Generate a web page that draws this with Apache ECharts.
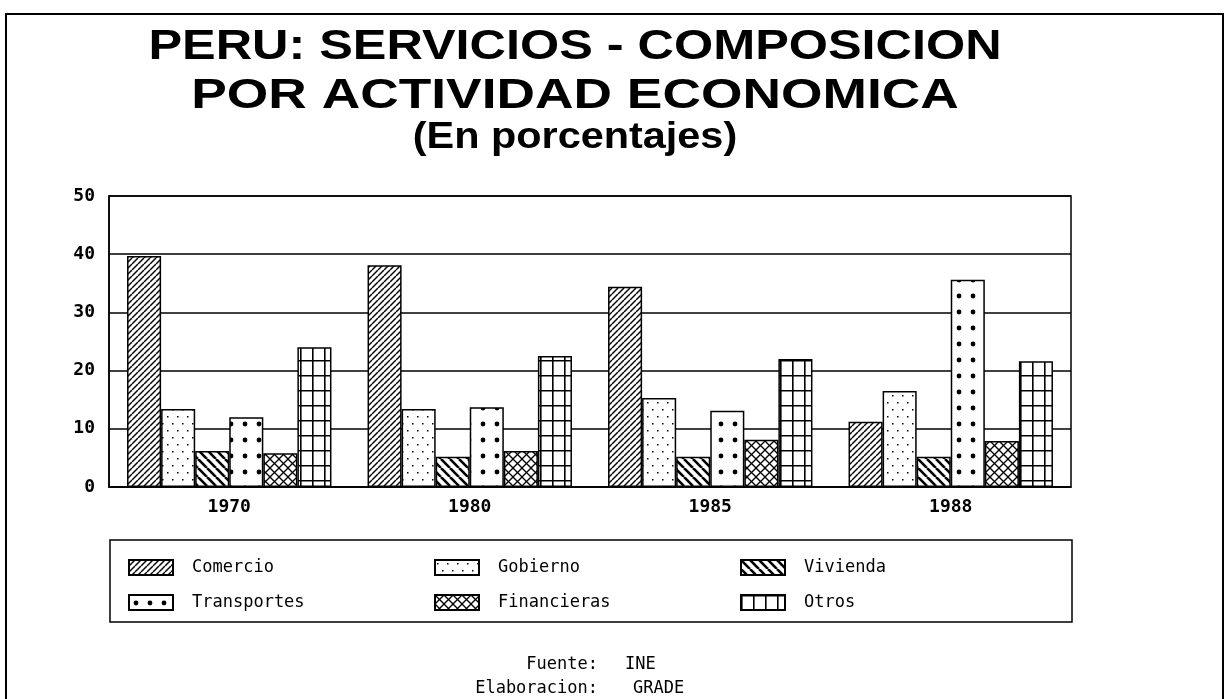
<!DOCTYPE html>
<html>
<head>
<meta charset="utf-8">
<script src="https://cdn.jsdelivr.net/npm/echarts@6/dist/echarts.min.js"></script>
<style>
  html, body { margin: 0; padding: 0; background: #fff; }
  #chart { width: 1230px; height: 699px; }
</style>
</head>
<body>
<div id="chart"></div>
<script>
// data
var years = ['1970', '1980', '1985', '1988']
var comercio = [39.7, 38.1, 34.4, 11.2]
var gobierno = [13.4, 13.4, 15.3, 16.5]
var vivienda = [6.2, 5.2, 5.2, 5.2]
var transportes = [12.0, 13.7, 13.1, 35.6]
var financieras = [5.8, 6.2, 8.1, 7.9]
var otros = [24.0, 22.5, 22.0, 21.6]
var yTicks = [0, 10, 20, 30, 40, 50]

var mono = '"DejaVu Sans Mono", monospace'
var sans = '"Liberation Sans", Arial, sans-serif'

// hatch fills drawn on small canvases
function tile (w, h, draw) {
  var c = document.createElement('canvas')
  c.width = w
  c.height = h
  var ctx = c.getContext('2d')
  ctx.fillStyle = '#fff'
  ctx.fillRect(0, 0, w, h)
  ctx.strokeStyle = '#000'
  ctx.fillStyle = '#000'
  draw(ctx, w, h)
  return { image: c, repeat: 'repeat' }
}

function diag (ctx, s, up) {
  for (var k = -1; k <= 1; k++) {
    ctx.beginPath()
    if (up) {
      ctx.moveTo(k * s, s)
      ctx.lineTo(k * s + s, 0)
    } else {
      ctx.moveTo(k * s, 0)
      ctx.lineTo(k * s + s, s)
    }
    ctx.stroke()
  }
}

var fills = {
  comercio: tile(6, 6, function (ctx, w) { ctx.lineWidth = 1.4; diag(ctx, w, true) }),
  gobierno: tile(10, 14, function (ctx) {
    ctx.fillRect(2, 3, 1.5, 1.5)
    ctx.fillRect(7, 10, 1.5, 1.5)
  }),
  vivienda: tile(9, 9, function (ctx, w) { ctx.lineWidth = 2.6; diag(ctx, w, false) }),
  transportes: tile(14, 16, function (ctx) {
    ctx.beginPath()
    ctx.arc(7, 8, 2.4, 0, Math.PI * 2)
    ctx.fill()
  }),
  financieras: tile(9, 9, function (ctx, w) {
    ctx.lineWidth = 1.3
    diag(ctx, w, true)
    diag(ctx, w, false)
  }),
  otros: tile(12, 15, function (ctx, w, h) {
    ctx.lineWidth = 1.6
    ctx.beginPath()
    ctx.moveTo(0.8, 0); ctx.lineTo(0.8, h)
    ctx.moveTo(0, 0.8); ctx.lineTo(w, 0.8)
    ctx.stroke()
  })
}

function bar (name, data, fill) {
  return {
    name: name,
    type: 'bar',
    data: data,
    barGap: '0%',
    barCategoryGap: '15%',
    itemStyle: { color: fill, borderColor: '#000', borderWidth: 1.5 }
  }
}

function legendCol (left, names) {
  return {
    orient: 'vertical',
    left: left,
    top: 559,
    padding: 0,
    itemWidth: 44,
    itemHeight: 15,
    itemGap: 18,
    icon: 'rect',
    data: names,
    selectedMode: false,
    textStyle: { fontFamily: mono, fontSize: 17, color: '#000', padding: [0, 0, 0, 14] }
  }
}

// title lines are stretched sideways to match the wide lettering
function titleLine (text, y, size, sx) {
  return {
    type: 'text', x: 575, y: y, scaleX: sx, silent: true,
    style: { text: text, x: 0, y: 0, font: 'bold ' + size + 'px ' + sans, fill: '#000', align: 'center', verticalAlign: 'top' }
  }
}

function note (text, x, y, align) {
  return { type: 'text', x: x, y: y, silent: true, style: { text: text, font: '17px ' + mono, fill: '#000', align: align, verticalAlign: 'middle' } }
}

var chart = echarts.init(document.getElementById('chart'))
chart.setOption({
  animation: false,
  backgroundColor: '#fff',
  grid: { left: 109, right: 159, top: 196, bottom: 212, show: true, borderColor: '#000', borderWidth: 1.5 },
  xAxis: {
    type: 'category',
    data: years,
    axisLine: { lineStyle: { color: '#000', width: 1.5 } },
    axisTick: { show: false },
    axisLabel: { color: '#000', fontFamily: mono, fontWeight: 'bold', fontSize: 18, margin: 11 }
  },
  yAxis: {
    type: 'value',
    min: yTicks[0],
    max: yTicks[yTicks.length - 1],
    interval: 10,
    axisLine: { show: true, lineStyle: { color: '#000', width: 1.5 } },
    axisTick: { show: false },
    splitLine: { lineStyle: { color: '#000', width: 1.5 } },
    axisLabel: { color: '#000', fontFamily: mono, fontWeight: 'bold', fontSize: 18, margin: 14 }
  },
  legend: [
    legendCol(128, ['Comercio', 'Transportes']),
    legendCol(434, ['Gobierno', 'Financieras']),
    legendCol(740, ['Vivienda', 'Otros'])
  ],
  series: [
    bar('Comercio', comercio, fills.comercio),
    bar('Gobierno', gobierno, fills.gobierno),
    bar('Vivienda', vivienda, fills.vivienda),
    bar('Transportes', transportes, fills.transportes),
    bar('Financieras', financieras, fills.financieras),
    bar('Otros', otros, fills.otros)
  ],
  graphic: [
    // outer frame
    { type: 'rect', shape: { x: 6, y: 14, width: 1217, height: 720 }, style: { fill: null, stroke: '#000', lineWidth: 2 }, silent: true },
    // legend box
    { type: 'rect', shape: { x: 110, y: 540, width: 962, height: 82 }, style: { fill: null, stroke: '#000', lineWidth: 1.5 }, silent: true },
    titleLine('PERU: SERVICIOS - COMPOSICION', 26, 42, 1.2),
    titleLine('POR ACTIVIDAD ECONOMICA', 75, 42, 1.27),
    titleLine('(En porcentajes)', 120, 36, 1.15),
    note('Fuente:', 598, 665, 'right'),
    note('INE', 625, 665, 'left'),
    note('Elaboracion:', 598, 689, 'right'),
    note('GRADE', 633, 689, 'left')
  ]
})
</script>
</body>
</html>
